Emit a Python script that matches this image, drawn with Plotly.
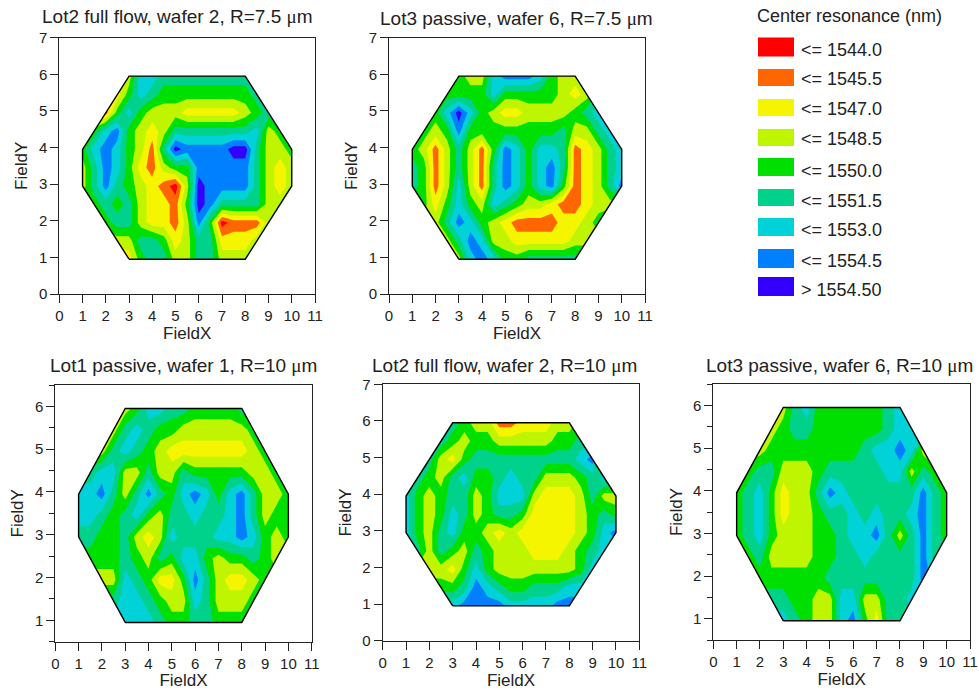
import plotly.graph_objects as go

W, H = 979, 690
FIELD_X = [1, 1.5, 2, 2.5, 3, 3.5, 4, 4.5, 5, 5.5, 6, 6.5, 7, 7.5, 8, 8.5, 9, 9.5, 10]
FIELD_Y = [0.95, 1.45, 1.95, 2.45, 2.95, 3.45, 3.95, 4.45, 4.95, 5.45, 5.95]
LEVELS = [1544.0, 1545.5, 1547.0, 1548.5, 1550.0, 1551.5, 1553.0, 1554.5]
# centre wavelength (nm) of each colour band of the key
BAND_NM = [1543.25, 1544.75, 1546.25, 1547.75, 1549.25, 1550.75, 1552.25, 1553.75, 1555.25]
COLORS = ["#FF0000", "#FF6600", "#F5F500", "#BFF500", "#00E000",
          "#00D28C", "#00D2D8", "#0080FF", "#3300FF"]
LEGEND_LABELS = ["<= 1544.0", "<= 1545.5", "<= 1547.0", "<= 1548.5", "<= 1550.0",
                 "<= 1551.5", "<= 1553.0", "<= 1554.5", "> 1554.50"]

# colour band read at each half-step site; first row is the lowest FieldY
LOT2_FF_75 = [
    [2,2,2,2,2,4,5,5,3,3,5,5,3,3,3,3,3,3,3],
    [3,3,3,3,3,5,5,4,2,3,5,5,2,2,2,3,3,3,3],
    [4,4,4,5,5,3,2,2,1,3,7,4,0,1,1,1,3,4,4],
    [4,4,5,4,5,3,2,2,1,4,8,7,5,5,5,5,3,3,3],
    [3,5,7,5,4,3,2,1,0,3,8,7,7,7,7,5,3,2,3],
    [3,5,7,6,4,2,1,3,4,4,7,7,7,7,7,5,3,2,3],
    [4,6,7,6,4,3,1,5,8,7,7,7,7,8,8,5,3,3,4],
    [4,4,6,7,4,3,2,3,5,5,5,5,5,5,5,6,3,4,5],
    [1,1,1,4,6,4,3,3,3,2,2,2,2,2,3,4,5,6,6],
    [2,2,2,2,4,6,5,4,4,4,4,4,4,4,4,5,6,6,6],
    [3,3,3,3,3,6,6,5,5,5,5,5,5,5,5,6,6,6,6],
]
LOT3_P_75 = [
    [2,2,2,2,3,6,7,6,4,4,5,5,5,5,5,5,5,5,5],
    [3,3,3,3,5,7,6,3,3,2,2,2,2,2,3,3,3,3,3],
    [3,3,3,5,7,6,4,3,2,1,1,1,1,2,2,3,4,5,5],
    [4,4,2,4,6,4,3,6,5,4,3,3,2,1,1,2,3,3,3],
    [5,4,1,3,6,3,1,5,7,6,4,6,7,4,1,2,3,5,7],
    [5,4,1,3,5,3,1,5,7,6,4,6,7,5,1,2,3,5,6],
    [4,3,1,3,5,3,1,4,7,6,4,6,6,5,1,2,3,5,6],
    [4,4,3,4,7,4,4,4,4,4,4,4,4,5,3,3,5,6,6],
    [4,4,4,6,8,6,4,3,2,2,3,3,3,3,4,5,6,6,6],
    [4,4,4,4,4,4,4,6,4,4,4,4,4,3,2,3,5,5,5],
    [4,4,4,4,4,3,3,6,7,7,7,6,4,3,3,3,3,3,3],
]
LOT1_P_10 = [
    [6,6,6,6,6,6,6,5,4,4,5,5,4,4,4,4,4,4,4],
    [5,5,5,5,6,6,5,4,3,3,6,5,3,3,3,4,4,4,4],
    [3,3,3,3,6,5,4,2,2,4,7,5,3,2,2,3,4,4,4],
    [4,4,4,4,5,4,3,5,4,6,6,4,3,4,4,5,4,3,3],
    [5,5,4,4,5,3,2,3,6,5,5,5,6,6,7,6,4,3,4],
    [6,6,5,4,5,6,4,3,5,5,6,5,5,6,7,5,3,4,4],
    [6,6,7,5,3,5,7,5,4,6,7,6,4,6,7,5,3,3,4],
    [5,5,6,6,3,3,5,3,3,5,4,4,4,4,4,3,3,4,5],
    [3,3,3,5,6,5,4,3,2,2,2,2,2,2,2,3,4,5,5],
    [3,3,3,3,5,6,5,4,4,3,3,3,3,3,3,4,5,5,5],
    [3,3,3,3,3,4,6,6,5,5,4,4,4,4,5,5,5,5,5],
]
LOT2_FF_10 = [
    [6,6,6,6,6,7,7,7,7,6,6,6,6,7,7,7,7,7,7],
    [4,4,4,4,4,5,7,6,5,4,4,5,5,5,6,6,6,6,6],
    [3,3,3,3,2,4,6,4,3,3,3,3,3,3,3,4,6,6,6],
    [5,5,3,5,4,3,5,4,3,3,3,2,2,2,3,4,5,6,6],
    [6,4,3,5,6,4,4,3,2,3,2,2,2,2,2,3,4,6,7],
    [6,4,3,4,6,5,3,4,5,5,4,2,2,2,2,3,4,5,4],
    [6,4,3,4,5,5,3,4,6,6,6,3,2,2,2,3,5,3,3],
    [5,5,4,3,5,6,4,4,5,6,5,5,3,3,3,4,5,6,6],
    [5,5,5,3,2,4,5,5,5,5,5,5,5,5,5,6,7,2,2],
    [5,5,5,5,4,3,4,4,3,3,3,3,3,4,4,5,5,5,5],
    [5,5,5,5,5,4,3,3,1,1,2,2,2,3,3,4,4,4,4],
]
LOT3_P_10 = [
    [6,6,6,6,6,5,4,3,3,6,7,4,2,5,5,5,5,5,5],
    [5,5,5,5,5,4,4,3,3,6,6,3,3,5,5,6,6,6,6],
    [4,4,4,4,4,4,4,4,5,5,5,5,5,5,5,5,7,6,6],
    [4,4,5,3,3,3,3,4,4,5,5,6,5,5,5,5,7,5,5],
    [4,5,6,4,3,3,3,4,4,5,6,6,7,5,3,5,7,5,4],
    [4,5,6,4,2,3,3,4,5,5,6,5,6,5,5,6,7,5,4],
    [4,5,6,4,2,3,3,5,7,6,5,5,5,5,5,5,7,5,4],
    [4,4,5,5,3,3,3,4,5,5,5,5,5,6,6,3,5,4,2],
    [3,3,3,4,4,4,4,4,4,4,4,5,6,6,7,6,3,2,2],
    [3,3,3,3,4,5,5,4,4,4,4,4,4,5,6,6,6,6,6],
    [3,3,3,3,3,5,6,4,4,4,4,4,4,5,6,6,6,6,6],
]

WAFER_X = [3, 8, 10, 10, 8, 3, 1, 1, 3]
WAFER_Y = [0.95, 0.95, 2.95, 3.95, 5.95, 5.95, 3.95, 2.95, 0.95]
CORNER_X = [0.9, 3, 3, 1, 0.9, None, 8, 10.1, 10.1, 10, 8, None,
            10.1, 10, 8, 8, 10.1, None, 3, 3, 1, 0.9, 0.9]
CORNER_Y = [0.85, 0.85, 0.95, 2.95, 2.95, None, 0.85, 0.85, 2.95, 2.95, 0.95, None,
            3.95, 3.95, 5.95, 6.05, 6.05, None, 6.05, 5.95, 3.95, 3.95, 6.05]

PANELS = [
    dict(title="Lot2 full flow, wafer 2, R=7.5 ", z=LOT2_FF_75, px=(59.3, 315, 37.7, 294),
         yr=(0, 7), tc=(177.5, 16)),
    dict(title="Lot3 passive, wafer 6, R=7.5 ", z=LOT3_P_75, px=(389, 645, 37.7, 294),
         yr=(0, 7), tc=(516.7, 19)),
    dict(title="Lot1 passive, wafer 1, R=10 ", z=LOT1_P_10, px=(55.3, 311.7, 385, 641.7),
         yr=(0.5, 6.5), tc=(183.3, 365)),
    dict(title="Lot2 full flow, wafer 2, R=10 ", z=LOT2_FF_10, px=(382.7, 639.3, 384.3, 640.7),
         yr=(0, 7), tc=(504, 365)),
    dict(title="Lot3 passive, wafer 6, R=10 ", z=LOT3_P_10, px=(713.3, 970, 384, 640),
         yr=(0.5, 6.5), tc=(839.7, 365)),
]

ZMIN, ZMAX = 1542.5, 1556.0
n = len(COLORS)
scale = []
for i, c in enumerate(COLORS):
    scale += [[i / n, c], [(i + 1) / n, c]]

FONT = "Liberation Sans, Arial, sans-serif"
INK = "#222"
fig = go.Figure()
annotations, shapes = [], []
layout = {}


def xp(v):
    return v / W


def yp(v):
    return 1 - v / H


for k, p in enumerate(PANELS, start=1):
    sx = "" if k == 1 else str(k)
    xa, ya = f"x{sx}", f"y{sx}"
    fig.add_trace(go.Contour(
        x=FIELD_X, y=FIELD_Y, z=[[BAND_NM[d] for d in row] for row in p["z"]],
        xaxis=xa, yaxis=ya, zmin=ZMIN, zmax=ZMAX, colorscale=scale, showscale=False,
        autocontour=False,
        contours=dict(start=LEVELS[0], end=LEVELS[-1], size=1.5, coloring="fill", showlines=False),
        line=dict(width=0, smoothing=0), hoverinfo="skip",
    ))
    fig.add_trace(go.Scatter(
        x=CORNER_X, y=CORNER_Y, xaxis=xa, yaxis=ya, mode="none", fill="toself",
        fillcolor="white", showlegend=False, hoverinfo="skip",
    ))
    fig.add_trace(go.Scatter(
        x=WAFER_X, y=WAFER_Y, xaxis=xa, yaxis=ya, mode="lines",
        line=dict(color="black", width=1.4), showlegend=False, hoverinfo="skip",
    ))
    x0, x1, y0, y1 = p["px"]
    axis_common = dict(
        showgrid=False, zeroline=False, ticks="outside", ticklen=8, tickwidth=1,
        tickcolor=INK, linecolor=INK, linewidth=1, mirror=True, showline=True,
        automargin=False, tickfont=dict(family=FONT, size=15, color=INK),
    )
    layout[f"xaxis{sx}"] = dict(
        domain=[xp(x0), xp(x1)], range=[0, 11], tick0=0, dtick=1, anchor=ya,
        title=dict(text="FieldX", font=dict(family=FONT, size=17, color=INK), standoff=3),
        **axis_common,
    )
    yaxis = dict(
        domain=[yp(y1), yp(y0)], range=list(p["yr"]), tick0=0, dtick=1, anchor=xa,
        title=dict(text="FieldY", font=dict(family=FONT, size=17, color=INK), standoff=6),
        **axis_common,
    )
    if p["yr"][0] == 0.5:
        yaxis["minor"] = dict(tick0=0.5, dtick=1, ticks="outside", ticklen=5, tickcolor=INK)
    layout[f"yaxis{sx}"] = yaxis
    annotations.append(dict(
        x=xp(p["tc"][0]), y=yp(p["tc"][1]), xref="paper", yref="paper",
        text=p["title"] + '<span style="font-family:Liberation Serif">\u03bc</span>m',
        showarrow=False, xanchor="center", yanchor="middle",
        font=dict(family=FONT, size=19, color=INK),
    ))

LEG_TOP = [37.5, 69, 99, 129, 158, 189, 218, 249, 277]
LEG_BOT = [56.5, 86, 116, 146, 176, 206, 236, 268, 296]
LEG_TXT = [50, 79, 109, 139, 171, 201, 230, 261, 290]
for c, t, b, ty, lab in zip(COLORS, LEG_TOP, LEG_BOT, LEG_TXT, LEGEND_LABELS):
    shapes.append(dict(type="rect", xref="paper", yref="paper", x0=xp(758), x1=xp(794),
                       y0=yp(b), y1=yp(t), fillcolor=c, line=dict(width=0)))
    annotations.append(dict(x=xp(799), y=yp(ty), xref="paper", yref="paper", text=lab,
                            showarrow=False, xanchor="left", yanchor="middle",
                            font=dict(family=FONT, size=18, color=INK)))
annotations.append(dict(x=xp(849), y=yp(16), xref="paper", yref="paper",
                        text="Center resonance (nm)", showarrow=False, xanchor="center",
                        yanchor="middle", font=dict(family=FONT, size=18, color=INK)))

fig.update_layout(
    width=W, height=H, margin=dict(l=0, r=0, t=0, b=0), autosize=False,
    paper_bgcolor="white", plot_bgcolor="white", showlegend=False,
    annotations=annotations, shapes=shapes, **layout,
)
fig.write_html("out.html", config={"displayModeBar": False},
               post_script="document.body.style.margin='0';")
